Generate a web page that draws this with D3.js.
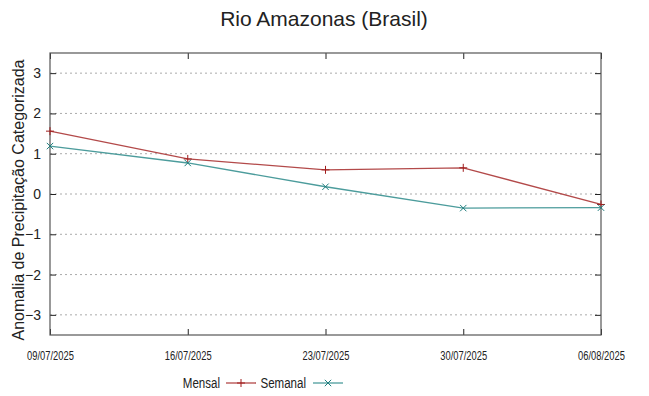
<!DOCTYPE html>
<html>
<head>
<meta charset="utf-8">
<script src="https://cdn.jsdelivr.net/npm/d3@7"></script>
<style>
  body { margin: 0; background: #fff; }
  text { fill: #222; }
</style>
</head>
<body>
<svg id="chart"></svg>
<script>
const dates = ["09/07/2025", "16/07/2025", "23/07/2025", "30/07/2025", "06/08/2025"];
const mensal = [1.56, 0.87, 0.60, 0.65, -0.26];
const semanal = [1.19, 0.77, 0.18, -0.35, -0.34];
const yTicks = [-3, -2, -1, 0, 1, 2, 3];

const w = 649;
const h = 396;
const plotLeft = 50, plotRight = 601, plotTop = 53, plotBottom = 335;
const sans = "'Liberation Sans', Arial, sans-serif";
// no narrow font installed, so squash text horizontally

const parse = d3.timeParse("%d/%m/%Y");
const days = dates.map(parse);

const svg = d3.select("#chart")
    .attr("width", w)
    .attr("height", h);

const x = d3.scaleTime()
    .domain([days[0], days[days.length - 1]])
    .range([plotLeft, plotRight]);
const y = d3.scaleLinear()
    .domain([-3.5, 3.5])
    .range([plotBottom, plotTop]);

// grid
svg.append("g")
    .selectAll("line")
    .data(yTicks)
    .enter()
    .append("line")
    .attr("x1", plotLeft)
    .attr("x2", plotRight)
    .attr("y1", (d) => y(d))
    .attr("y2", (d) => y(d))
    .attr("stroke", "#aaa")
    .attr("stroke-width", 1)
    .attr("stroke-dasharray", "2,3");

// axes with inward ticks
const yAxis = d3.axisLeft(y).tickValues(yTicks).tickSize(-6).tickPadding(9).tickFormat(d3.format("d"));
svg.append("g")
    .attr("transform", `translate(${plotLeft},0)`)
    .call(yAxis)
    .call(g => g.select(".domain").remove())
    .call(g => g.selectAll("line").attr("stroke", "#222"))
    .call(g => g.selectAll("text").attr("font-family", sans).attr("font-size", 14).attr("fill", "#222"));
svg.append("g")
    .attr("transform", `translate(${plotRight},0)`)
    .call(d3.axisRight(y).tickValues(yTicks).tickSize(-6).tickFormat(""))
    .call(g => g.select(".domain").remove())
    .call(g => g.selectAll("line").attr("stroke", "#222"));

const xAxis = d3.axisBottom(x).tickValues(days).tickSize(-6).tickPadding(16).tickFormat((d, i) => dates[i]);
svg.append("g")
    .attr("transform", `translate(0,${plotBottom})`)
    .call(xAxis)
    .call(g => g.select(".domain").remove())
    .call(g => g.selectAll("line").attr("stroke", "#222"))
    .call(g => g.selectAll("text")
        .attr("font-family", sans)
        .attr("font-size", 13)
        .attr("fill", "#222")
        .attr("transform", "scale(0.72,1)"));
svg.append("g")
    .attr("transform", `translate(0,${plotTop})`)
    .call(d3.axisTop(x).tickValues(days).tickSize(-6).tickFormat(""))
    .call(g => g.select(".domain").remove())
    .call(g => g.selectAll("line").attr("stroke", "#222"));

// border
svg.append("rect")
    .attr("x", plotLeft)
    .attr("y", plotTop)
    .attr("width", plotRight - plotLeft)
    .attr("height", plotBottom - plotTop)
    .attr("fill", "none")
    .attr("stroke", "#555")
    .attr("stroke-width", 1.2);

const series = [
    { name: "Mensal", values: mensal, line: "#b34a4a", point: "#a01c1c", sym: "+" },
    { name: "Semanal", values: semanal, line: "#4c9c9c", point: "#1e7d7d", sym: "x" }
];

const line = d3.line()
    .x((d, i) => x(days[i]))
    .y((d) => y(d));

function drawMark(g, sym, cx, cy, color) {
    if (sym === "x") {
        const s = 3.2;
        g.append("path")
            .attr("d", `M${cx - s},${cy - s}L${cx + s},${cy + s}M${cx - s},${cy + s}L${cx + s},${cy - s}`)
            .attr("stroke", color).attr("stroke-width", 1);
    } else {
        const s = 4;
        g.append("path")
            .attr("d", `M${cx - s},${cy}L${cx + s},${cy}M${cx},${cy - s}L${cx},${cy + s}`)
            .attr("stroke", color).attr("stroke-width", 1);
    }
}

series.forEach(s => {
    svg.append("path")
        .datum(s.values)
        .attr("d", line)
        .attr("fill", "none")
        .attr("stroke", s.line)
        .attr("stroke-width", 1.3);
    const g = svg.append("g");
    s.values.forEach((v, i) => drawMark(g, s.sym, x(days[i]), y(v), s.point));
});

// title
svg.append("text")
    .attr("x", 324)
    .attr("y", 26)
    .attr("text-anchor", "middle")
    .attr("font-family", sans)
    .attr("font-size", 21)
    .text("Rio Amazonas (Brasil)");

// y label
svg.append("text")
    .attr("transform", `translate(24,200) rotate(-90)`)
    .attr("text-anchor", "middle")
    .attr("font-family", sans)
    .attr("font-size", 16)
    .text("Anomalia de Precipitação Categorizada");

// legend
const legend = svg.append("g").attr("font-family", sans).attr("font-size", 15);
const ly = 383;
series.forEach((s, i) => {
    const tx = i === 0 ? 220 : 306;
    const lx = i === 0 ? 226 : 313;
    legend.append("text")
        .attr("transform", `translate(${tx},${ly + 5}) scale(0.77,1)`)
        .attr("text-anchor", "end")
        .text(s.name);
    legend.append("line")
        .attr("x1", lx).attr("x2", lx + 30)
        .attr("y1", ly).attr("y2", ly)
        .attr("stroke", s.line).attr("stroke-width", 1.3);
    drawMark(legend, s.sym, lx + 15, ly, s.point);
});
</script>
</body>
</html>
